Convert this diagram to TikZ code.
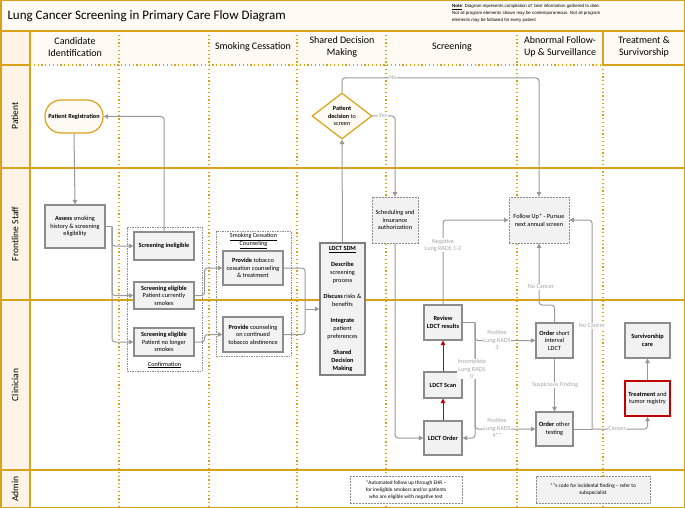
\documentclass[tikz,border=0pt]{standalone}
\usepackage{fontspec}
\setmainfont{Carlito}
\newfontfamily\notefont{Liberation Sans}
\usetikzlibrary{shapes.geometric,arrows.meta}
\definecolor{gold}{HTML}{D9A319}
\definecolor{peach}{HTML}{FDF3E7}
\definecolor{cream}{HTML}{FFFAF4}
\definecolor{bgray}{HTML}{8C8C8C}
\definecolor{bfill}{HTML}{F2F2F2}
\definecolor{cgray}{HTML}{999999}
\definecolor{lgray}{HTML}{A6A6A6}
\definecolor{dred}{HTML}{C00000}
\begin{document}
\begin{tikzpicture}[x=1pt,y=-1pt,
  box/.style={draw=bgray, line width=1.1pt, fill=bfill, align=center, font=\fontsize{6.3}{7.6}\selectfont, inner sep=0.5pt},
  dbox/.style={box, line width=0.8pt, dash pattern=on 2pt off 1pt},
  conn/.style={draw=cgray, line width=1pt, rounded corners=3pt, -{Triangle[length=4.5pt,width=4.5pt]}},
  plainc/.style={draw=cgray, line width=1pt, rounded corners=3pt},
  redc/.style={draw=dred, line width=1pt, -{Triangle[length=4.5pt,width=4.5pt]}},
  lbl/.style={text=lgray, fill=white, inner sep=0.6pt, align=center, font=\fontsize{6.2}{7.2}\selectfont},
  grp/.style={draw=bgray, line width=0.7pt, dash pattern=on 1.5pt off 1pt},
  hdr/.style={align=center, font=\fontsize{10}{12}\selectfont},
  rowlbl/.style={rotate=90, font=\fontsize{9.5}{11}\selectfont},
  gline/.style={draw=gold, line width=1.2pt},
  dline/.style={draw=gold, line width=1.2pt, dash pattern=on 1.2pt off 2.6pt},
]
\useasboundingbox (0,0) rectangle (685,508);
% backgrounds
\fill[cream] (0,0) rectangle (685,65);
\fill[peach] (0,31) rectangle (30,508);
% grid
\foreach \xx in {119,209,297,386,517} {\draw[dline] (\xx,31) -- (\xx,508);}
\draw[dline] (603,65) -- (603,508);
\draw[dline] (30,65) -- (603,65);
\draw[gline] (603,65) -- (685,65);
\draw[gline] (0,65) -- (30,65);
\draw[gline] (603,31) -- (603,65);
\draw[gline] (0,31) -- (685,31);
\foreach \yy in {168,300,470} {\draw[gline] (0,\yy) -- (685,\yy);}
\draw[gline] (30,31) -- (30,508);
\draw[gold, line width=1.5pt] (0.75,0.75) rectangle (684.25,507.25);

% title and note
\node[anchor=west, font=\fontsize{13}{16}\selectfont] (title) at (4,16) {Lung Cancer Screening in Primary Care Flow Diagram};
\node[anchor=north west, align=left, inner sep=0pt, font=\notefont\fontsize{4.4}{7}\selectfont] (note) at (452,4.5)
 {\underline{\textbf{Note}}: Diagram represents compilation of\ \ best information gathered to date.\\
  Not all program elements shown may be contemporaneous. Not all program\\
  elements may be followed for every patient};

% headers
\node[hdr] (h1) at (75,47) {Candidate\\Identification};
\node[hdr] (h2) at (253,47) {Smoking Cessation};
\node[hdr] (h3) at (342,47) {Shared Decision\\Making};
\node[hdr] (h4) at (452,47) {Screening};
\node[hdr] (h5) at (560,47) {Abnormal Follow-\\Up \& Surveillance};
\node[hdr] (h6) at (644,47) {Treatment \&\\Survivorship};

% row labels
\node[rowlbl] (r1) at (15,116) {Patient};
\node[rowlbl] (r2) at (15,234) {Frontline Staff};
\node[rowlbl] (r3) at (15,385) {Clinician};
\node[rowlbl] (r4) at (15,489) {Admin};

% groups
\node[grp, minimum width=75pt, minimum height=144pt, inner sep=0pt] (confg) at (164.5,299) {};
\node[font=\fontsize{6.2}{7}\selectfont, inner sep=0pt] (conflbl) at (164.5,365) {\underline{Confirmation}};
\node[grp, minimum width=75pt, minimum height=125pt, inner sep=0pt] (cessg) at (253.5,293.5) {};
\node[font=\fontsize{6.2}{8.6}\selectfont, align=center, inner sep=0pt] (cesslbl) at (253.5,241) {\underline{Smoking Cessation}\\\underline{Counseling}};

% nodes
\node[draw=gold, line width=1.2pt, fill=cream, rounded corners=16pt, minimum width=58pt, minimum height=33pt, inner sep=1pt, font=\fontsize{6.3}{7.6}\selectfont] (reg) at (74,116.5) {\textbf{Patient Registration}};
\node[diamond, shape aspect=1.3, draw=gold, line width=1.2pt, fill=cream, minimum width=60pt, minimum height=46pt, inner sep=0pt, align=center, font=\fontsize{6.2}{7.6}\selectfont] (dec) at (342,116) {\textbf{Patient}\\\textbf{decision} to\\screen};
\node[box, minimum width=60pt, minimum height=43pt] (assess) at (75,226.5) {\textbf{Assess} smoking\\history \& screening\\eligibility};
\node[box, minimum width=60pt, minimum height=28pt] (inelig) at (164,246) {\textbf{Screening ineligible}};
\node[box, minimum width=60pt, minimum height=27pt] (cur) at (164,295.5) {\textbf{Screening eligible}\\Patient currently\\smokes};
\node[box, minimum width=60pt, minimum height=28pt] (nolong) at (164,342) {\textbf{Screening eligible}\\Patient no longer\\smokes};
\node[box, minimum width=60pt, minimum height=34pt] (prov1) at (253,268) {\textbf{Provide} tobacco\\cessation counseling\\\& treatment};
\node[box, minimum width=60pt, minimum height=35pt] (prov2) at (253,334.5) {\textbf{Provide} counseling\\on continued\\tobacco abstinence};
\node[box, line width=1.3pt, draw=gray, minimum width=45pt, minimum height=132pt, font=\fontsize{6.3}{8}\selectfont] (sdm) at (342.5,309)
 {\underline{\textbf{LDCT SDM}}\\[8pt]\textbf{Describe}\\screening\\process\\[8pt]\textbf{Discuss} risks \&\\benefits\\[8pt]\textbf{Integrate}\\patient\\preferences\\[8pt]\textbf{Shared}\\\textbf{Decision}\\\textbf{Making}};
\node[dbox, minimum width=46pt, minimum height=46pt] (sched) at (395,220) {Scheduling and\\insurance\\authorization};
\node[dbox, minimum width=60pt, minimum height=46pt] (follow) at (539,220) {Follow Up* - Pursue\\next annual screen};
\node[box, minimum width=38pt, minimum height=35pt] (review) at (443,322.5) {\textbf{Review}\\\textbf{LDCT results}};
\node[box, minimum width=38pt, minimum height=26pt] (scan) at (443,385) {\textbf{LDCT Scan}};
\node[box, minimum width=38pt, minimum height=34pt] (order) at (443,438) {\textbf{LDCT Order}};
\node[box, minimum width=37pt, minimum height=35pt] (short) at (554.5,340.5) {\textbf{Order} short\\interval\\LDCT};
\node[box, minimum width=37pt, minimum height=34pt] (other) at (554.5,429) {\textbf{Order} other\\testing};
\node[box, minimum width=45pt, minimum height=35pt] (surv) at (647.5,340.5) {\textbf{Survivorship}\\\textbf{care}};
\node[box, draw=dred, line width=1.2pt, minimum width=45pt, minimum height=35pt] (treat) at (647.5,398.5) {\textbf{Treatment} and\\tumor registry};
\node[dbox, fill=white, minimum width=112pt, minimum height=27pt, font=\fontsize{5.3}{7}\selectfont] (note1) at (406,490) {*Automated follow up through EHR --\\for ineligible smokers and/or patients\\who are eligible with negative test};
\node[dbox, minimum width=114pt, minimum height=27pt, font=\fontsize{5.3}{7}\selectfont] (note2) at (593,490) {**s code for incidental finding -- refer to\\subspecialist};

% coordinates
\coordinate (aj) at (112,226.5);
\coordinate (m) at (305,309);
\coordinate (noc) at (342,78);
\coordinate (rj) at (475,322.5);
\coordinate (nc1) at (539,305);
\coordinate (cj) at (592,429);

% connectors
\draw[conn] (reg.south) -- (assess.north);
\draw[conn] (inelig.north) |- (reg.east);
\draw[plainc] (assess.east) -- (aj);
\draw[conn] (aj) |- (inelig.west);
\draw[conn] (aj) |- (cur.west);
\draw[conn] (aj) |- (nolong.west);
\draw[conn] (cur.east) -- ++(10,0) |- (prov1.west);
\draw[conn] (nolong.east) -- ++(10,0) |- (prov2.west);
\draw[plainc] (prov1.east) -| (m);
\draw[plainc] (prov2.east) -| (m);
\draw[conn] (m) -- (sdm.west |- m);
\draw[conn] (sdm.north) -- (dec.south);
\draw[conn] (dec.north) -- (noc) -| (follow.north);
\draw[conn] (dec.east) -| (sched.north);
\draw[conn] (sched.south) |- (order.west);
\draw[redc] (order.north) -- (scan.south);
\draw[redc] (scan.north) -- (review.south);
\draw[conn] (review.north) |- (follow.west);
\draw[plainc] (review.east) -- (rj);
\draw[conn] (rj) |- (short.west);
\draw[conn] (rj) |- (other.west);
\draw[conn] (rj) |- (order.east);
\draw[conn] (short.south) -- (other.north);
\draw[conn] (short.north) |- (nc1) -- (follow.south);
\draw[plainc] (other.east) -- (cj);
\draw[conn] (cj) |- (follow.east);
\draw[conn] (cj) -| (treat.south);
\draw[conn] (treat.north) -- (surv.south);

% labels
\node[lbl] (lno) at (393,78) {No};
\node[lbl] (lyes) at (383,116) {Yes};
\node[lbl] (lneg) at (443,245) {Negative\\Lung RADS 1-2};
\node[lbl] (lp3) at (497,340) {Positive\\Lung RADS\\3};
\node[lbl] (linc) at (472,369) {Incomplete\\Lung RADS\\0};
\node[lbl] (lp4) at (497,428) {Positive\\Lung RADS\\4**};
\node[lbl] (lsus) at (555,385) {Suspicious Finding};
\node[lbl] (lnc1) at (541,287) {No Cancer};
\node[lbl] (lnc2) at (592,326) {No Cancer};
\node[lbl] (lcan) at (617,429) {Cancer};
\end{tikzpicture}
\end{document}
